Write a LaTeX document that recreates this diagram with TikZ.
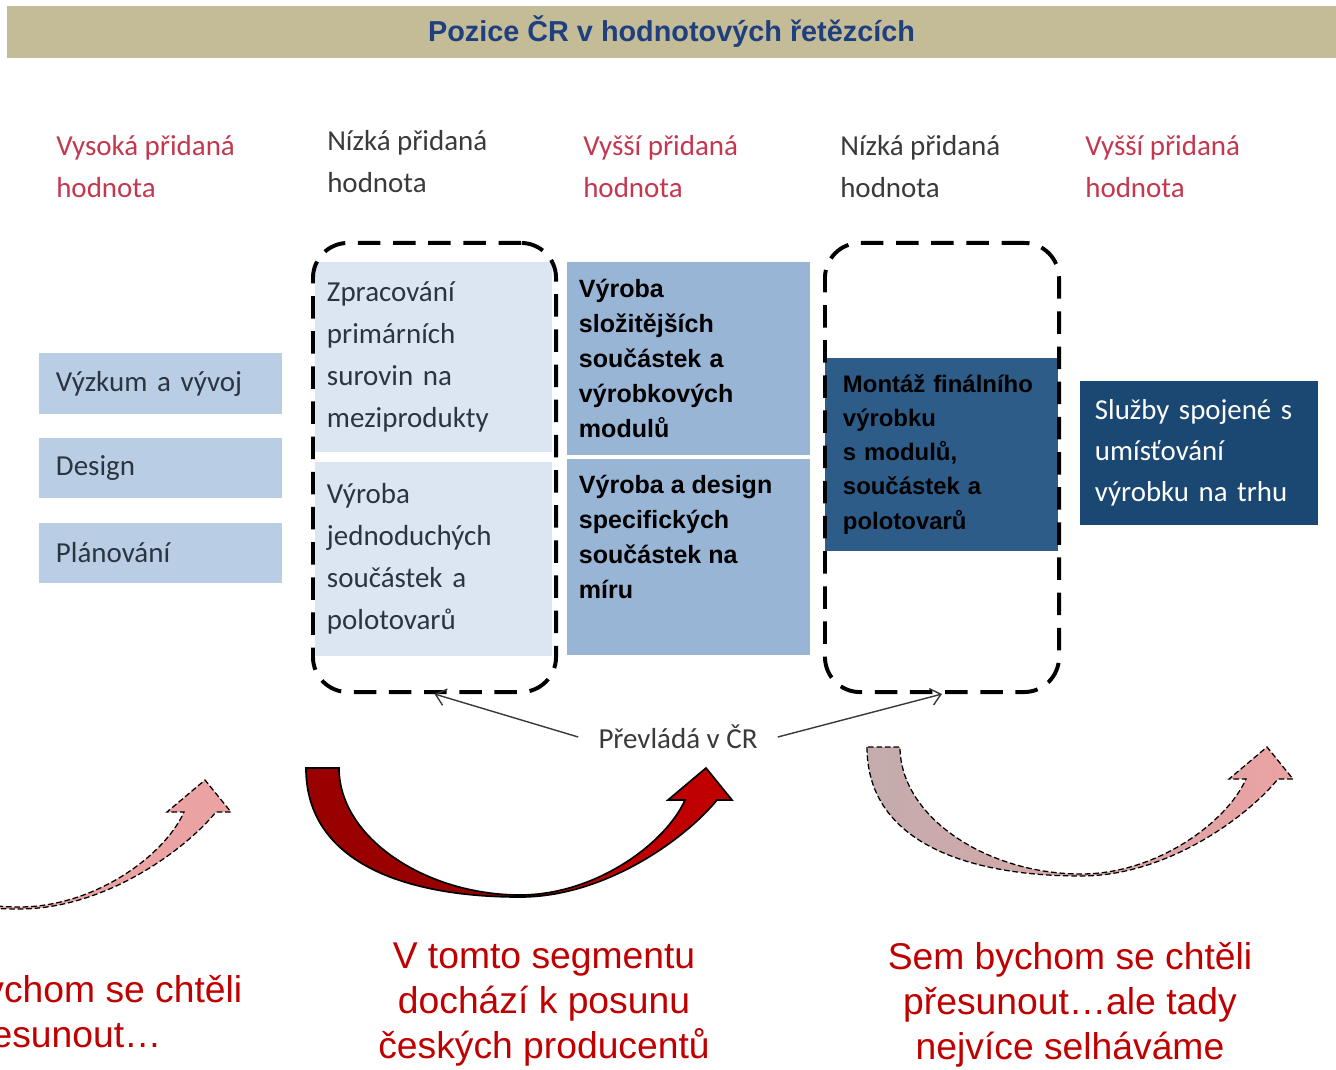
\documentclass[tikz,border=0pt]{standalone}
\usepackage{fontspec}
\setmainfont{Liberation Sans}
\newfontfamily\calibri{Carlito}
\usetikzlibrary{positioning, arrows.meta}

\definecolor{titlebar}{HTML}{C4BC96}
\definecolor{titleblue}{HTML}{1F3F7F}
\definecolor{labelred}{HTML}{C3384F}
\definecolor{labelgray}{HTML}{3A3A3A}
\definecolor{boxtext}{HTML}{2A3540}
\definecolor{paleblue}{HTML}{B9CDE5}
\definecolor{lightblue}{HTML}{DCE6F2}
\definecolor{midblue}{HTML}{98B5D6}
\definecolor{steelblue}{HTML}{2D5C88}
\definecolor{navyblue}{HTML}{1A4872}
\definecolor{backred}{HTML}{990000}
\definecolor{frontred}{HTML}{C00000}
\definecolor{greypink}{HTML}{C4ACAD}
\definecolor{softpink}{HTML}{EBA2A2}
\definecolor{textred}{HTML}{C00000}

\newcommand{\BendArrow}[3]{%
    % #1 : x of tail corner
    % #2 : y of tail corner
    % #3 : path options
    \begin{scope}[shift={(#1,#2)}]
        \path[#3]
        (0,0) .. controls (0,95) and (100,129) .. (214,129)
        .. controls (300,129) and (380,70) .. (411,32)
        -- (426,32) -- (400,0) -- (362,32) -- (379,32)
        .. controls (360,75) and (290,127) .. (214,127)
        .. controls (120,127) and (33,70) .. (33,0)
        -- cycle;
    \end{scope}
}

\begin{document}
\begin{tikzpicture}[
        x=0.025cm, y=-0.025cm,
        every node/.style={inner sep=0pt},
        calibritext/.style={font=\calibri\fontsize{20.6}{29.9}\selectfont},
        headtext/.style={calibritext, align=left, anchor=west},
        titlebox/.style={fill=titlebar, minimum width=33.225cm, minimum height=1.3cm,
            font=\bfseries\fontsize{20.5}{24}\selectfont, text=titleblue},
        sidebox/.style={calibritext, fill=paleblue, text=boxtext, align=left,
            minimum height=1.5cm, text width=5.225cm, inner xsep=0.425cm},
        rawbox/.style={calibritext, fill=lightblue, text=boxtext, align=left,
            text width=5.325cm, inner xsep=0.3cm},
        partbox/.style={fill=midblue, minimum width=6.075cm},
        boldtext/.style={font=\bfseries\fontsize{17.8}{24.9}\selectfont, align=left},
        dashframe/.style={draw, line width=2.8pt, dash pattern=on 16pt off 9pt,
            rounded corners=0.875cm, minimum height=11.225cm},
        pointer/.style={draw=labelgray, line width=1pt,
            -{Straight Barb[length=7pt, width=12pt]}},
        arrowdash/.style={draw=black, line width=0.9pt, dash pattern=on 4pt off 2pt},
        bottomtext/.style={font=\fontsize{26.5}{32}\selectfont, text=textred, align=center},
    ]

    \path[use as bounding box, fill=white] (0,0) rectangle (1336,1070);
    \clip (0,0) rectangle (1336,1070);

    % title bar
    \node[titlebox] (title) at (671.5,32) {Pozice ČR v hodnotových řetězcích};

    % value labels
    \node[headtext, text=labelred] (vysoka) at (56,167) {Vysoká přidaná\\hodnota};
    \node[headtext, text=labelgray] (nizka1) at (327,162) {Nízká přidaná\\hodnota};
    \node[headtext, text=labelred] (vyssi1) at (583,167) {Vyšší přidaná\\hodnota};
    \node[headtext, text=labelgray] (nizka2) at (840,167) {Nízká přidaná\\hodnota};
    \node[headtext, text=labelred] (vyssi2) at (1085,167) {Vyšší přidaná\\hodnota};

    % first column
    \node[sidebox] (vyzkum) at (160.5,383.5) {Výzkum a vývoj};
    \node[sidebox, below=0.6cm of vyzkum] (design) {Design};
    \node[sidebox, below=0.6cm of design] (planovani) {Plánování};

    % second column
    \node[rawbox, minimum height=4.725cm] (suroviny) at (433.5,357)
        {Zpracování\\primárních\\surovin na\\meziprodukty};
    \node[rawbox, minimum height=4.85cm, below=0.25cm of suroviny] (jednoduche)
        {Výroba\\jednoduchých\\součástek a\\polotovarů};

    % third column
    \node[partbox, boldtext, minimum height=4.825cm, text width=5.475cm, inner xsep=0.3cm]
        (slozitejsi) at (688.5,358.5)
        {Výroba\\složitějších\\součástek a\\výrobkových\\modulů};
    \node[partbox, minimum height=4.9cm, below=0.075cm of slozitejsi] (namiru) {};
    \node[boldtext, anchor=north west] (namirutext)
        at ([shift={(12,17)}]namiru.north west)
        {Výroba a design\\specifických\\součástek na\\míru};

    % fourth column
    \node[boldtext, font=\bfseries\fontsize{17}{24.2}\selectfont, fill=steelblue,
        minimum height=4.825cm, text width=4.925cm, inner xsep=0.45cm]
        (montaz) at (941.5,454.5)
        {Montáž finálního\\výrobku\\s modulů,\\součástek a\\polotovarů};

    % fifth column
    \node[calibritext, font=\calibri\fontsize{20.5}{29.2}\selectfont, fill=navyblue,
        text=white, align=left, minimum height=3.6cm, text width=5.2cm, inner xsep=0.375cm]
        (sluzby) at (1199,453)
        {Služby spojené s\\umísťování\\výrobku na trhu};

    % dashed frames
    \node[dashframe, minimum width=6.075cm] (ramecA) at (434.5,467.5) {};
    \node[dashframe, minimum width=5.85cm] (ramecB) at (942,467.5) {};

    \node[calibritext, text=labelgray, inner xsep=0.5cm] (prevlada) at (678,737) {Převládá v ČR};
    \draw[pointer] (prevlada.west) -- (ramecA.south);
    \draw[pointer] (prevlada.east) -- (ramecB.south);

    % bent arrows
    \BendArrow{-195}{780}{fill=softpink, arrowdash};

    \BendArrow{306}{768}{fill=backred};
    \begin{scope}
        \clip (520,700) rectangle (760,910);
        \BendArrow{306}{768}{fill=frontred};
    \end{scope}
    \BendArrow{306}{768}{draw=black, line width=1.2pt};

    \BendArrow{867}{747}{left color=greypink, right color=softpink, arrowdash};

    % bottom notes
    \node[bottomtext] (presun) at (60,1015) {Sem bychom se chtěli\\přesunout…};
    \node[bottomtext] (segment) at (544,1005) {V tomto segmentu\\dochází k posunu\\českých producentů};
    \node[bottomtext] (selhani) at (1070,1005) {Sem bychom se chtěli\\přesunout…ale tady\\nejvíce selháváme};

\end{tikzpicture}
\end{document}
